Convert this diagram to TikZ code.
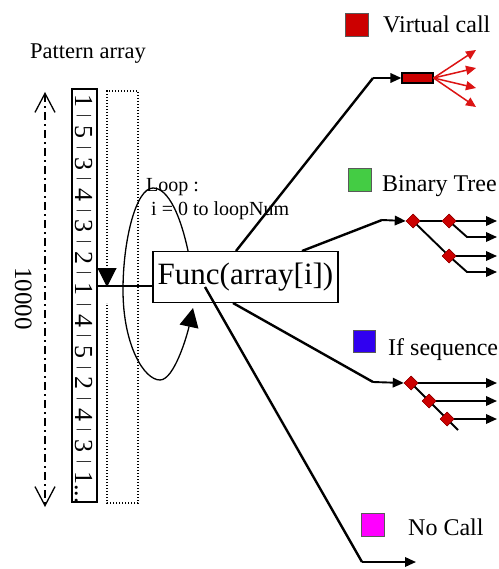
\documentclass[tikz,border=0pt]{standalone}
\usepackage{fontspec}
\setmainfont{Liberation Serif}
\usetikzlibrary{arrows.meta,shapes.geometric}
\definecolor{vred}{RGB}{204,0,0}
\definecolor{fanred}{RGB}{220,20,20}
\definecolor{bgreen}{RGB}{68,204,68}
\definecolor{iblue}{RGB}{48,0,240}
\definecolor{nmag}{RGB}{255,0,255}
\newcommand\asep{\hspace{7.6pt}\raisebox{5pt}{\fontsize{16}{16}\selectfont|}\hspace{7.6pt}}
\begin{document}
\begin{tikzpicture}[x=1pt,y=-1pt,
  conn/.style={line width=2.4pt},
  tconn/.style={line width=1.9pt},
  arr/.style={-{Triangle[length=11pt,width=9.5pt]}},
  fanarr/.style={draw=fanred,line width=1.5pt,-{Triangle[length=10pt,width=9pt,fill=fanred]}},
  legsq/.style={draw=black!65,line width=0.6pt,minimum size=23pt,inner sep=0pt,anchor=north west},
  lbl/.style={anchor=base west,inner sep=0pt,font=\fontsize{24}{24}\selectfont},
  dia/.style={diamond,fill=vred,draw=red!55!black,minimum size=14pt,inner sep=0pt,line width=0.5pt},
  dots/.style={line width=1.1pt,dash pattern=on 1.1pt off 1.9pt},
  bigtri/.style={-{Triangle[length=19pt,width=19pt]}},
  barb/.style={{Straight Barb[length=19pt,width=20pt,line width=1.3pt]}-{Straight Barb[length=19pt,width=20pt,line width=1.3pt]}}
]
\useasboundingbox[fill=white] (0,0) rectangle (498,569);

% titles
\node[anchor=base west,inner sep=0pt,font=\fontsize{22.5}{22.5}\selectfont] (title) at (30,59) {Pattern array};

% dash-dot size arrow
\coordinate (dtop) at (45,92);
\coordinate (dbot) at (45,507);
\draw[barb,line width=1.3pt,dash pattern=on 8pt off 4pt on 2pt off 4pt] (dtop) -- (dbot);
\node[rotate=-90,anchor=base west,inner sep=0pt,font=\fontsize{25}{25}\selectfont] (count) at (15,267) {10000};

% array
\node[draw,line width=1.3pt,minimum width=25pt,minimum height=413pt,inner sep=0pt] (array) at (84.5,295.5) {};
\node[rotate=-90,anchor=base west,inner sep=0pt,font=\fontsize{26}{26}\selectfont] (digits) at (75,94)
  {1\asep 5\asep 3\asep 4\asep 3\asep 2\asep 1\asep 4\asep 5\asep 2\asep 4\asep 3\asep 1...};

% dotted window
\coordinate (wtl) at (107,91);
\coordinate (wtr) at (138,91);
\coordinate (wbl) at (107,503);
\coordinate (wbr) at (138,503);
\coordinate (wtip) at (107,287);
\coordinate (wres) at (107,303);
\draw[dots] (wtip) -- (wtl) -- (wtr) -- (wbr) -- (wbl) -- (wres);
\draw[dots,bigtri] (wtl) -- (wtip);

% loop curve (drawn before the box so the box hides its inner part)
\coordinate (ls) at (191,266);
\coordinate (ltop) at (153,188);
\coordinate (lleft) at (123,290);
\coordinate (lbot) at (160,380);
\coordinate (lend) at (193,308);
\draw[line width=1.3pt] (ls) .. controls (182,215) and (168,188) .. (ltop)
  .. controls (136,188) and (123,240) .. (lleft)
  .. controls (123,345) and (144,380) .. (lbot);
\draw[line width=1.3pt,bigtri] (lbot) .. controls (174,380) and (187,336) .. (lend);

% connector anchors on the box
\coordinate (fvc) at (236,251);
\coordinate (fbt) at (302,251);
\coordinate (fis) at (233,303);

% function box
\node[draw,fill=white,line width=1.2pt,minimum width=185pt,minimum height=51pt,inner sep=0pt,
      font=\fontsize{31}{31}\selectfont] (func) at (245.5,277) {Func(array[i])};
\coordinate (fnc) at (205,287);

% array -> func
\coordinate (ain) at (97,286);
\draw[line width=1.2pt] (ain) -- (ain -| func.west);

% loop labels
\node[anchor=base west,inner sep=0pt,font=\fontsize{20}{20}\selectfont] (loop1) at (146,192) {Loop :};
\node[anchor=base west,inner sep=0pt,font=\fontsize{20}{20}\selectfont] (loop2) at (151,215) {i = 0 to loopNum};

% ---- Virtual call
\node[legsq,fill=vred] (sqvc) at (345,13) {};
\node[lbl] (lvc) at (383,33) {Virtual call};
\coordinate (vc0) at (373,78);
\node[draw=black,fill=vred,line width=1.2pt,minimum width=31pt,minimum height=10pt,inner sep=0pt] (vrect) at (417.5,78) {};
\draw[conn] (fvc) -- (vc0);
\draw[tconn,arr] (vc0) -- (vrect.west);
\coordinate (f1) at (476,50);
\coordinate (f2) at (476,68);
\coordinate (f3) at (476,88);
\coordinate (f4) at (476,107);
\foreach \f in {f1,f2,f3,f4} \draw[fanarr] (vrect.east) -- (\f);

% ---- Binary Tree
\node[legsq,fill=bgreen] (sqbt) at (348,168) {};
\node[lbl] (lbt) at (382,192) {Binary Tree};
\coordinate (bt0) at (382,220);
\node[dia] (d1) at (413,221) {};
\node[dia] (d2) at (449,221) {};
\node[dia] (d3) at (449,256) {};
\coordinate (b1) at (497,221);
\coordinate (bk2) at (467,237);
\coordinate (b2) at (497,237);
\coordinate (b3) at (497,256);
\coordinate (bk4) at (467,272);
\coordinate (b4) at (497,272);
\draw[conn] (fbt) -- (bt0);
\draw[tconn,arr] (bt0) -- (d1.west);
\draw[tconn] (d1) -- (d2);
\draw[tconn] (d1) -- (d3);
\draw[tconn,arr] (d2) -- (b1);
\draw[tconn,arr] (d2) -- (bk2) -- (b2);
\draw[tconn,arr] (d3) -- (b3);
\draw[tconn,arr] (d3) -- (bk4) -- (b4);
\node[dia] at (d1) {};
\node[dia] at (d2) {};
\node[dia] at (d3) {};

% ---- If sequence
\node[legsq,fill=iblue,minimum size=22pt] (sqis) at (353,330) {};
\node[lbl] (lis) at (388,355) {If sequence};
\coordinate (is0) at (373,382);
\node[dia] (e1) at (411,383) {};
\node[dia] (e2) at (429,401) {};
\node[dia] (e3) at (447,419) {};
\coordinate (eend) at (458,430);
\coordinate (i1) at (497,383);
\coordinate (i2) at (497,401);
\coordinate (i3) at (497,419);
\draw[conn] (fis) -- (is0);
\draw[tconn,arr] (is0) -- (e1.west);
\draw[tconn] (e1) -- (eend);
\draw[tconn,arr] (e1) -- (i1);
\draw[tconn,arr] (e2) -- (i2);
\draw[tconn,arr] (e3) -- (i3);
\node[dia] at (e1) {};
\node[dia] at (e2) {};
\node[dia] at (e3) {};

% ---- No Call
\node[legsq,fill=nmag] (sqnc) at (361,513) {};
\node[lbl] (lnc) at (408,535) {No Call};
\coordinate (nc0) at (362,562);
\coordinate (nc1) at (416,562);
\draw[conn] (fnc) -- (nc0);
\draw[tconn,arr] (nc0) -- (nc1);
\end{tikzpicture}
\end{document}
